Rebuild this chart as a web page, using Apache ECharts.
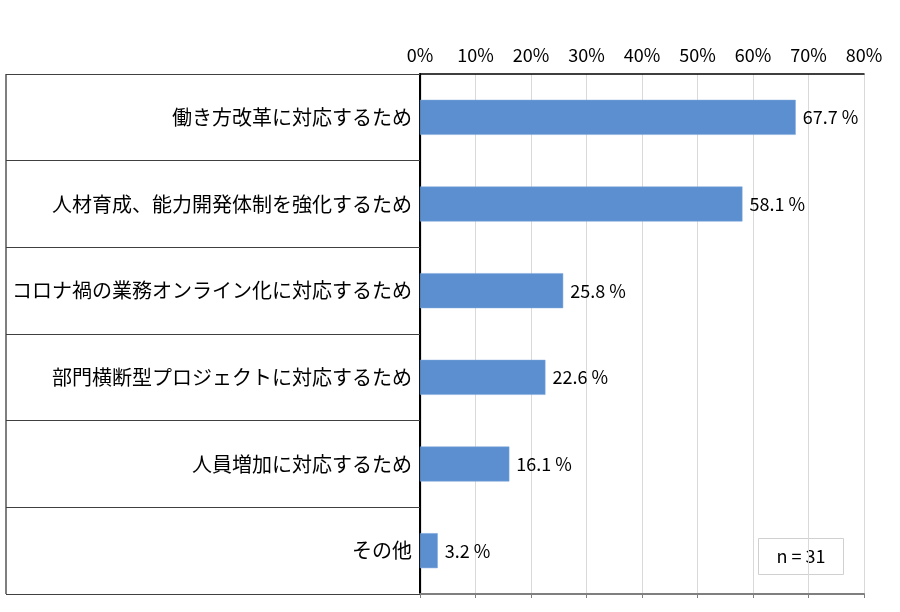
<!DOCTYPE html>
<html>
<head>
<meta charset="utf-8">
<script src="https://cdn.jsdelivr.net/npm/echarts@6/dist/echarts.min.js"></script>
<style>
  html, body {margin: 0; padding: 0; background: #fff;}
  #chart {width: 900px; height: 612px;}
</style>
</head>
<body>
<div id="chart"></div>
<script>
// 回答項目と割合(%)
var categories = [
    '働き方改革に対応するため',
    '人材育成、能力開発体制を強化するため',
    'コロナ禍の業務オンライン化に対応するため',
    '部門横断型プロジェクトに対応するため',
    '人員増加に対応するため',
    'その他'
];
var values = [67.7, 58.1, 25.8, 22.6, 16.1, 3.2];
var sampleNote = 'n = 31';

var fontJa = '"Noto Sans CJK JP", "Noto Sans", sans-serif';

var chart = echarts.init(document.getElementById('chart'));

var option = {
    animation: false,
    backgroundColor: '#fff',
    grid: {left: 420, right: 36, top: 74, bottom: 18},
    xAxis: [{
        type: 'value',
        position: 'top',
        min: 0,
        max: 80,
        interval: 10,
        axisLine: {show: true, lineStyle: {color: '#000', width: 1.5}},
        axisTick: {show: false},
        axisLabel: {
            formatter: '{value}%',
            color: '#000',
            fontSize: 18,
            fontFamily: fontJa,
            margin: 10
        },
        splitLine: {show: true, lineStyle: {color: '#d9d9d9', width: 1}}
    }, {
        // 下枠
        type: 'value',
        position: 'bottom',
        min: 0,
        max: 80,
        interval: 10,
        axisLine: {show: true, lineStyle: {color: '#7f7f7f', width: 2}},
        axisTick: {show: true, length: 4, lineStyle: {color: '#7f7f7f'}},
        axisLabel: {show: false},
        splitLine: {show: false}
    }],
    yAxis: [{
        type: 'category',
        data: categories,
        inverse: true,
        axisLine: {show: true, lineStyle: {color: '#000', width: 2}},
        axisTick: {show: true, length: 414, lineStyle: {color: '#404040', width: 1.2}},
        axisLabel: {
            color: '#000',
            fontSize: 20,
            fontFamily: fontJa,
            margin: 8
        },
        splitLine: {show: false}
    }, {
        // 右枠
        type: 'category',
        data: categories,
        inverse: true,
        position: 'right',
        axisLine: {show: true, lineStyle: {color: '#000', width: 1.2}},
        axisTick: {show: false},
        axisLabel: {show: false}
    }],
    series: [{
        type: 'bar',
        data: values,
        barWidth: 35,
        itemStyle: {color: '#5b8fd0', borderColor: '#7fa9dc', borderWidth: 0.5},
        label: {
            show: true,
            position: 'right',
            distance: 7,
            color: '#000',
            fontSize: 18,
            fontFamily: fontJa,
            formatter: function (p) { return p.value.toFixed(1) + ' %'; }
        }
    }],
    graphic: [{
        // 表の左枠
        type: 'line',
        shape: {x1: 6, y1: 74, x2: 6, y2: 594},
        style: {stroke: '#7f7f7f', lineWidth: 2}
    }, {
        type: 'group',
        left: 758,
        top: 538,
        children: [{
            type: 'rect',
            shape: {x: 0, y: 0, width: 85, height: 36},
            style: {fill: '#fff', stroke: '#d0d0d0', lineWidth: 1}
        }, {
            type: 'text',
            x: 42.5,
            y: 18,
            style: {
                text: sampleNote,
                fill: '#000',
                fontSize: 18,
                fontFamily: fontJa,
                align: 'center',
                verticalAlign: 'middle'
            }
        }]
    }]
};

chart.setOption(option);

window.onresize = function () {
    chart.resize();
};
</script>
</body>
</html>
